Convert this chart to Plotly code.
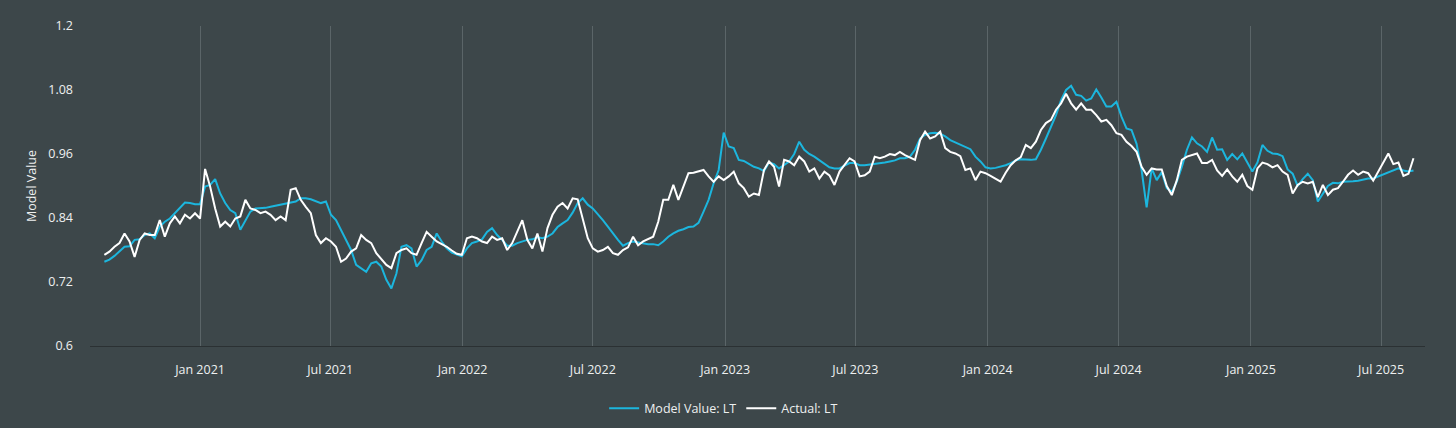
import pandas as pd
import plotly.graph_objects as go

# Weekly observations starting 2020-08-21
start_date = "2020-08-21"
n_points = 261
dates = pd.date_range(start=start_date, periods=n_points, freq="7D")

model_value = [
    0.758, 0.762, 0.769, 0.777, 0.786, 0.787, 0.799, 0.800, 0.808, 0.811,
    0.802, 0.824, 0.833, 0.839, 0.849, 0.861, 0.869, 0.868, 0.866, 0.866,
    0.899, 0.902, 0.913, 0.886, 0.868, 0.855, 0.849, 0.818, 0.836, 0.852,
    0.858, 0.858, 0.859, 0.861, 0.863, 0.864, 0.866, 0.869, 0.871, 0.877,
    0.877, 0.875, 0.871, 0.868, 0.871, 0.846, 0.836, 0.818, 0.799, 0.780,
    0.752, 0.746,
    0.739, 0.755, 0.758, 0.749, 0.724, 0.708, 0.736, 0.786, 0.789, 0.783,
    0.749, 0.761, 0.780, 0.786, 0.811, 0.796, 0.783, 0.775, 0.771, 0.768,
    0.783, 0.793, 0.796, 0.800, 0.814, 0.821, 0.808, 0.799, 0.788, 0.788,
    0.793, 0.796, 0.799, 0.800, 0.804, 0.802, 0.805, 0.811, 0.823, 0.830,
    0.836, 0.850, 0.868, 0.877, 0.865, 0.858, 0.848, 0.836, 0.824, 0.811,
    0.799, 0.788,
    0.793, 0.796, 0.794, 0.793, 0.791, 0.791, 0.789, 0.796, 0.805, 0.811,
    0.816, 0.819, 0.823, 0.824, 0.831, 0.852, 0.874, 0.905, 0.930, 1.000,
    0.974, 0.971, 0.949, 0.947, 0.941, 0.936, 0.933, 0.928, 0.944, 0.941,
    0.933, 0.939, 0.946, 0.960, 0.983, 0.968, 0.960, 0.955, 0.948, 0.941,
    0.935, 0.933, 0.933, 0.938, 0.943, 0.943, 0.939, 0.939, 0.940, 0.941,
    0.943, 0.944, 0.946,
    0.948, 0.952, 0.952, 0.955, 0.968, 0.989, 0.996, 0.999, 1.000, 0.998,
    0.993, 0.986, 0.982, 0.977, 0.973, 0.969, 0.955, 0.946, 0.935, 0.933,
    0.934, 0.936, 0.939, 0.943, 0.948, 0.950, 0.949, 0.949, 0.950, 0.968,
    0.989, 1.011, 1.033, 1.061, 1.080, 1.088, 1.071, 1.069, 1.060, 1.064,
    1.081, 1.066, 1.049, 1.049, 1.058, 1.030, 1.008, 1.005, 0.979, 0.930,
    0.860, 0.933, 0.911,
    0.926, 0.896, 0.889, 0.908, 0.936, 0.968, 0.991, 0.980, 0.974, 0.964,
    0.991, 0.968, 0.969, 0.949, 0.960, 0.950, 0.961, 0.943, 0.927, 0.944,
    0.977, 0.966, 0.961, 0.960, 0.956, 0.931, 0.923, 0.900, 0.913, 0.923,
    0.911, 0.871, 0.886, 0.900, 0.906, 0.905, 0.908, 0.908, 0.909, 0.910,
    0.912, 0.914, 0.914, 0.918, 0.921, 0.925, 0.930, 0.933, 0.929, 0.927,
    0.929,
]

actual_value = [
    0.771, 0.777, 0.786, 0.793, 0.811, 0.796, 0.767, 0.799, 0.811, 0.808,
    0.808, 0.836, 0.805, 0.830, 0.843, 0.830, 0.846, 0.839, 0.849, 0.839,
    0.932, 0.899, 0.858, 0.824, 0.833, 0.824, 0.839, 0.843, 0.874, 0.858,
    0.855, 0.849, 0.852, 0.846, 0.836, 0.843, 0.836, 0.893, 0.896, 0.874,
    0.861, 0.849, 0.808, 0.793, 0.802, 0.796, 0.786, 0.758, 0.764, 0.777,
    0.783, 0.808,
    0.799, 0.793, 0.774, 0.764, 0.752, 0.746, 0.774, 0.780, 0.783, 0.774,
    0.771, 0.793, 0.814, 0.805, 0.796, 0.791, 0.786, 0.779, 0.773, 0.771,
    0.802, 0.805, 0.802, 0.796, 0.793, 0.805, 0.799, 0.802, 0.780, 0.793,
    0.814, 0.836, 0.799, 0.783, 0.811, 0.777, 0.821, 0.846, 0.861, 0.868,
    0.858, 0.877, 0.875, 0.836, 0.802, 0.783, 0.777, 0.780, 0.786, 0.774,
    0.771, 0.780,
    0.785, 0.805, 0.789, 0.796, 0.800, 0.805, 0.833, 0.874, 0.874, 0.902,
    0.874, 0.899, 0.924, 0.925, 0.927, 0.930, 0.918, 0.908, 0.918, 0.911,
    0.918, 0.927, 0.905, 0.896, 0.880, 0.886, 0.883, 0.930, 0.946, 0.936,
    0.899, 0.949, 0.946, 0.939, 0.955, 0.946, 0.927, 0.933, 0.914, 0.927,
    0.920, 0.902, 0.927, 0.939, 0.952, 0.946, 0.918, 0.920, 0.927, 0.955,
    0.952, 0.955, 0.960,
    0.958, 0.964, 0.958, 0.954, 0.949, 0.986, 1.002, 0.989, 0.993, 1.002,
    0.971, 0.964, 0.961, 0.956, 0.930, 0.933, 0.911, 0.927, 0.924, 0.919,
    0.913, 0.908, 0.925, 0.939, 0.948, 0.954, 0.977, 0.971, 0.983, 1.005,
    1.018, 1.024, 1.043, 1.055, 1.073, 1.055, 1.043, 1.055, 1.043, 1.043,
    1.033, 1.021, 1.024, 1.014, 0.999, 0.996, 0.983, 0.975, 0.964, 0.936,
    0.921, 0.933, 0.931,
    0.931, 0.900, 0.883, 0.911, 0.949, 0.955, 0.958, 0.961, 0.943, 0.943,
    0.949, 0.929, 0.919, 0.931, 0.918, 0.908, 0.921, 0.900, 0.893, 0.933,
    0.944, 0.941, 0.935, 0.939, 0.927, 0.921, 0.886, 0.902, 0.908, 0.905,
    0.908, 0.879, 0.902, 0.883, 0.893, 0.896, 0.908, 0.921, 0.929, 0.921,
    0.927, 0.924, 0.910, 0.927, 0.946, 0.961, 0.941, 0.944, 0.919, 0.923,
    0.952,
]

y_ticks = [0.6, 0.72, 0.84, 0.96, 1.08, 1.2]
y_tick_labels = ["0.6", "0.72", "0.84", "0.96", "1.08", "1.2"]

BG = "#3d474a"
TEXT = "#eef0f0"
CYAN = "#1cb6de"

fig = go.Figure()
fig.add_trace(go.Scatter(
    x=dates, y=model_value, mode="lines", name="Model Value: LT",
    line=dict(color=CYAN, width=2),
))
fig.add_trace(go.Scatter(
    x=dates, y=actual_value, mode="lines", name="Actual: LT",
    line=dict(color="#ffffff", width=2),
))

fig.update_layout(
    width=1456, height=428,
    paper_bgcolor=BG, plot_bgcolor=BG,
    margin=dict(l=90, r=31, t=26, b=82),
    font=dict(family="Open Sans, Noto Sans, sans-serif", size=12, color=TEXT),
    showlegend=True,
    legend=dict(orientation="h", xref="container", yref="container",
                x=0.497, xanchor="center", y=0.045, yanchor="middle",
                font=dict(size=12.5, color=TEXT), bgcolor="rgba(0,0,0,0)",
                itemwidth=30),
    xaxis=dict(
        range=["2020-08-01", "2025-08-31"],
        tickformat="%b %Y", dtick="M6", tick0="2021-01-01",
        showgrid=True, gridcolor="#5b6568", gridwidth=1,
        showline=True, linecolor="#2b3133", linewidth=1,
        zeroline=False, ticks="", ticklabelstandoff=12,
        tickfont=dict(size=12.5, color=TEXT),
    ),
    yaxis=dict(
        range=[0.6, 1.2], tickvals=y_ticks, ticktext=y_tick_labels,
        showgrid=False, zeroline=False, showline=False, ticks="",
        ticklabelstandoff=16,
        title=dict(text="Model Value", font=dict(size=12.5, color=TEXT), standoff=8),
        tickfont=dict(size=12.5, color=TEXT),
    ),
)

fig.write_html(
    "out.html",
    config={"displayModeBar": False},
    post_script="document.body.style.margin='0';document.body.style.background='" + BG + "';",
)
